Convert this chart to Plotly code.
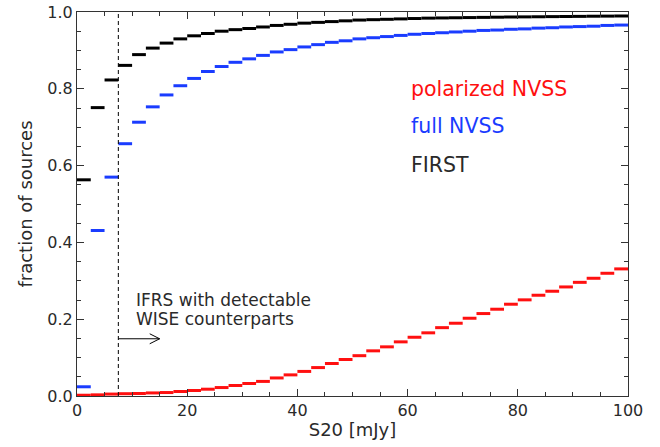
import plotly.graph_objects as go

# S20 bins (mJy): left edges, each bin 2.5 mJy wide
bin_width = 2.5
bin_left = [i * bin_width for i in range(40)]

# cumulative fraction of sources per bin
first_frac = [
    0.563, 0.751, 0.823, 0.861, 0.889, 0.906, 0.919, 0.930, 0.938, 0.944,
    0.950, 0.954, 0.957, 0.961, 0.965, 0.968, 0.971, 0.973, 0.975, 0.977,
    0.979, 0.980, 0.981, 0.982, 0.983, 0.984, 0.9845, 0.985, 0.9855, 0.986,
    0.9865, 0.987, 0.9873, 0.9876, 0.988, 0.9883, 0.9886, 0.989, 0.9893, 0.9896,
]
full_nvss_frac = [
    0.024, 0.431, 0.570, 0.657, 0.713, 0.753, 0.784, 0.808, 0.827, 0.845,
    0.858, 0.869, 0.878, 0.887, 0.896, 0.902, 0.909, 0.915, 0.921, 0.925,
    0.930, 0.933, 0.936, 0.939, 0.942, 0.944, 0.946, 0.948, 0.950, 0.952,
    0.953, 0.955, 0.956, 0.958, 0.959, 0.961, 0.962, 0.963, 0.965, 0.966,
]
pol_nvss_frac = [
    0.002, 0.003, 0.005, 0.006, 0.0065, 0.008, 0.009, 0.0117, 0.0143, 0.0177,
    0.022, 0.0273, 0.0325, 0.038, 0.047, 0.055, 0.064, 0.074, 0.0846, 0.095,
    0.105, 0.1176, 0.128, 0.141, 0.153, 0.1645, 0.178, 0.1895, 0.2025, 0.2147,
    0.226, 0.239, 0.2504, 0.2624, 0.2728, 0.284, 0.296, 0.3066, 0.3196, 0.331,
]

wise_limit = 7.5  # mJy

RED = "#ff1010"
BLUE = "#1a3cff"
BLACK = "#000000"
TEXT = "#2a2a2a"
FONT = "DejaVu Sans"


def step_segments(lefts, values, width):
    xs, ys = [], []
    for x0, v in zip(lefts, values):
        xs += [x0, x0 + width, None]
        ys += [v, v, None]
    return xs, ys


fig = go.Figure()
for vals, col in [(first_frac, BLACK), (full_nvss_frac, BLUE), (pol_nvss_frac, RED)]:
    xs, ys = step_segments(bin_left, vals, bin_width)
    fig.add_trace(go.Scatter(x=xs, y=ys, mode="lines",
                             line=dict(color=col, width=3),
                             hoverinfo="skip", showlegend=False))

# detection limit of WISE counterparts
fig.add_shape(type="line", xref="x", yref="y", x0=wise_limit, x1=wise_limit,
              y0=0, y1=1, line=dict(color="black", width=1, dash="4px,3px"))

# arrow pointing to higher flux densities
arrow_y = 0.149
arrow_tip = 15.0
fig.add_shape(type="line", xref="x", yref="y", x0=wise_limit, x1=arrow_tip,
              y0=arrow_y, y1=arrow_y, line=dict(color="black", width=1))
fig.add_shape(type="path", xref="x", yref="y",
              path=f"M {arrow_tip - 1.8},{arrow_y + 0.013} L {arrow_tip},{arrow_y} "
                   f"L {arrow_tip - 1.8},{arrow_y - 0.013}",
              line=dict(color="black", width=1))

for txt, yy in [("IFRS with detectable", 0.251), ("WISE counterparts", 0.201)]:
    fig.add_annotation(x=10.3, y=yy, xref="x", yref="y", xanchor="left", yanchor="middle",
                       text=txt, showarrow=False,
                       font=dict(family=FONT, size=17, color=TEXT))

labels = [("polarized NVSS", RED, 0.800), ("full NVSS", BLUE, 0.702), ("FIRST", TEXT, 0.6025)]
for txt, col, yy in labels:
    fig.add_annotation(x=60.3, y=yy, xref="x", yref="y", xanchor="left", yanchor="middle",
                       text=txt, showarrow=False, font=dict(family=FONT, size=20.5, color=col))

axis_common = dict(
    showline=True, linecolor="#333333", linewidth=1, mirror="ticks",
    ticks="inside", ticklen=7, tickcolor="#333333", tickwidth=1,
    showgrid=False, zeroline=False,
    tickfont=dict(family=FONT, size=16, color=TEXT),
)

fig.update_xaxes(range=[0, 100], tickvals=[0, 20, 40, 60, 80, 100],
                 minor=dict(dtick=5, ticks="inside", ticklen=4, tickcolor="#333333"),
                 title=dict(text="S20 [mJy]", font=dict(family=FONT, size=18, color=TEXT),
                            standoff=4),
                 **axis_common)
fig.update_yaxes(range=[0, 1], tickvals=[0, 0.2, 0.4, 0.6, 0.8, 1.0], tickformat=".1f",
                 minor=dict(dtick=0.05, ticks="inside", ticklen=4, tickcolor="#333333"),
                 title=dict(text="fraction of sources", font=dict(family=FONT, size=18, color=TEXT),
                            standoff=10),
                 **axis_common)

fig.update_layout(width=660, height=447,
                  margin=dict(l=77, r=32, t=12, b=51, autoexpand=False),
                  paper_bgcolor="white", plot_bgcolor="white")

fig.write_html("out.html")
